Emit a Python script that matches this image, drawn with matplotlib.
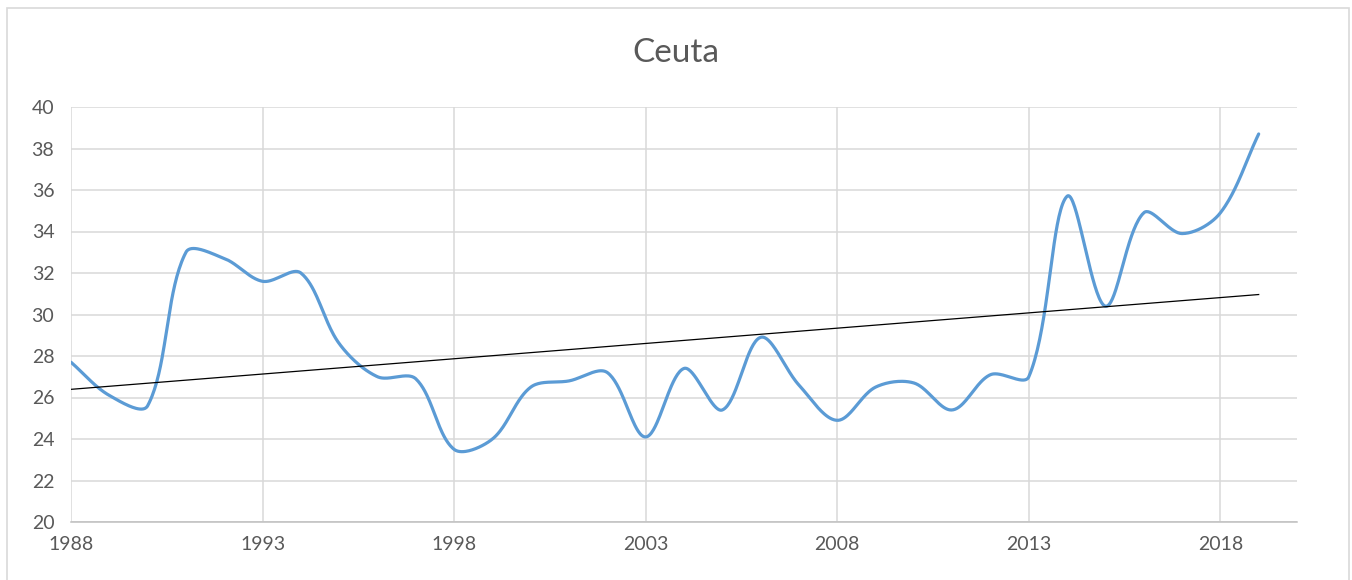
import numpy as np
import matplotlib
matplotlib.use("Agg")
import matplotlib.pyplot as plt
from matplotlib.patches import Rectangle

years = np.arange(1988, 2020)
values = [27.7, 26.1, 25.6, 33.0, 32.7, 31.6, 32.0, 28.6, 27.0, 26.9,
          23.5, 24.0, 26.5, 26.8, 27.2, 24.1, 27.4, 25.4, 28.9, 26.6,
          24.9, 26.5, 26.7, 25.4, 27.1, 27.0, 35.7, 30.4, 34.9, 33.9,
          34.9, 38.7]
xticks = [1988, 1993, 1998, 2003, 2008, 2013, 2018]
yticks = list(range(20, 41, 2))

plt.rcParams['font.family'] = ['Lato', 'DejaVu Sans']

# pixeles por año y por unidad (para suavizar como Excel, en espacio de pantalla)
PX_X = 38.3
PX_Y = 20.77


def smooth(x, y, n=40):
    x = np.asarray(x, float) * PX_X
    y = np.asarray(y, float) * PX_Y
    P = np.column_stack([x, y])
    m = len(P)
    c_out = np.zeros_like(P)
    c_in = np.zeros_like(P)
    for i in range(m):
        prev = P[max(i - 1, 0)]
        nxt = P[min(i + 1, m - 1)]
        d = nxt - prev
        lp = np.hypot(*(P[i] - prev))
        ln = np.hypot(*(nxt - P[i]))
        tot = lp + ln if lp + ln > 0 else 1
        c_out[i] = P[i] + d * ln / tot / 3
        c_in[i] = P[i] - d * lp / tot / 3
    t = np.linspace(0, 1, n)[:, None]
    segs = []
    for i in range(m - 1):
        p0, p1, p2, p3 = P[i], c_out[i], c_in[i + 1], P[i + 1]
        segs.append((1 - t) ** 3 * p0 + 3 * (1 - t) ** 2 * t * p1 + 3 * (1 - t) * t ** 2 * p2 + t ** 3 * p3)
    pts = np.concatenate(segs)
    return pts[:, 0] / PX_X, pts[:, 1] / PX_Y


fig = plt.figure(figsize=(13.52, 5.8), dpi=100)
fig.patches.append(Rectangle((7 / 1352, -0.01), 1342 / 1352, 1 - 8 / 580 + 0.01,
                             transform=fig.transFigure, fill=False,
                             edgecolor='#D9D9D9', linewidth=1.2))
ax = fig.add_axes([71 / 1352, 58 / 580, 1226 / 1352, 415 / 580])

sx, sy = smooth(years, values)
ax.plot(sx, sy, color='#5B9BD5', linewidth=2.3, solid_capstyle='round', zorder=3)

coef = np.polyfit(years, values, 1)
ax.plot([years[0], years[-1]], np.polyval(coef, [years[0], years[-1]]),
        color='black', linewidth=0.9, zorder=4)

ax.set_xlim(1988, 2020)
ax.set_ylim(20, 40)
ax.set_xticks(xticks)
ax.set_yticks(yticks)
ax.grid(True, color='#D9D9D9', linewidth=1.1)
ax.set_axisbelow(True)
for s in ['top', 'right', 'left']:
    ax.spines[s].set_visible(False)
ax.spines['bottom'].set_color('#BFBFBF')
ax.spines['bottom'].set_linewidth(1.1)
ax.tick_params(length=0, labelsize=14, labelcolor='#595959', pad=10)
ax.tick_params(axis='y', pad=12)

fig.text(0.5, 1 - 53 / 580, 'Ceuta', ha='center', va='center',
         fontsize=24, color='#595959')

fig.savefig('out.png', dpi=100)
